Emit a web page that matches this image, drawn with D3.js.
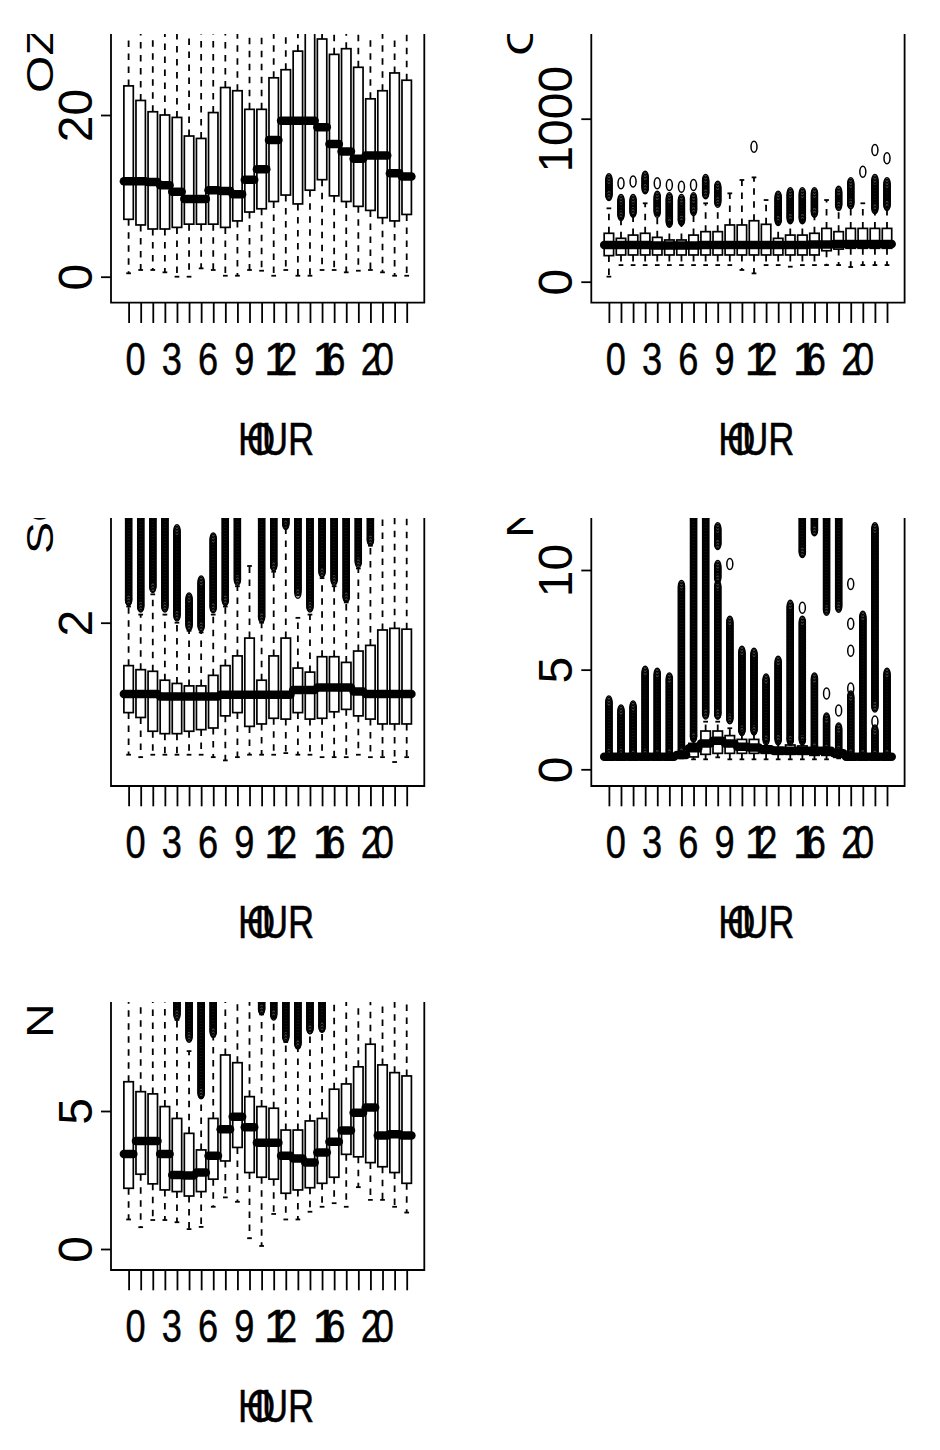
<!DOCTYPE html>
<html><head><meta charset="utf-8">
<script src="https://cdn.jsdelivr.net/npm/d3@7"></script>
<style>body{margin:0;background:#fff}svg{display:block}</style>
</head><body>
<svg id="c" width="940" height="1450"></svg>
<script>
// ---------- categories ----------
const hours = ["0","1","2","3","4","5","6","7","8","9","10","11","12","13","14","15","16","17","18","19","20","21","22","23"];
const shownHourLabels = ["0","3","6","9","12","16","20"];
const xTitle = "HOUR";

// ---------- panel 1: OZONE ----------
const o3Q1  = [7.1,6.4,5.9,5.9,6.1,6.5,6.5,6.5,6.1,6.9,8.0,8.4,9.3,10.1,9.0,10.7,12.0,10.0,9.3,8.7,8.2,7.3,6.9,7.7];
const o3Med = [11.8,11.8,11.7,11.3,10.5,9.6,9.6,10.7,10.6,10.2,12.0,13.3,16.9,19.3,19.3,19.3,18.5,16.4,15.5,14.6,15.0,15.0,12.8,12.4];
const o3Q3  = [23.6,21.8,20.4,20.0,19.7,17.4,17.1,20.3,23.4,23.0,20.7,20.7,24.6,25.6,27.9,30.5,29.4,27.5,28.2,25.9,22.0,23.0,25.2,24.3];
const o3Lw  = [0.42,0.83,0.83,0.54,0,0,1.03,0.83,0.12,0.12,0.83,0.74,0.12,0.83,0.12,0.12,0.83,0.83,0.54,0.74,0.83,0.54,0.12,0.12];
const o3Uw  = [45,45,45,45,45,45,45,45,45,45,45,45,45,45,45,45,45,45,45,45,45,45,45,45];
const o3Ticks = [0,20];

// ---------- panel 2: CO ----------
const coQ1  = [160,164,164,164,164,164,164,164,164,164,164,164,164,164,164,164,164,164,190,200,205,205,205,205];
const coMed = [225,225,225,225,222,222,222,222,225,225,225,225,225,225,225,225,225,228,228,231,231,231,231,231];
const coQ3  = [297,266,286,297,272,256,256,286,307,307,348,348,374,352,266,286,286,297,327,307,327,327,327,327];
const coLw  = [31,102,102,102,102,102,102,102,102,102,102,72,51,102,102,92,102,102,102,102,90,102,102,102];
const coUw  = [450,390,410,481,415,360,370,420,481,470,542,624,640,501,370,375,375,415,501,455,465,481,440,455];
const coOutRuns = [[[532,628]],[[409,501]],[[429,501]],[[573,644]],[[429,521]],[[368,512]],[[378,501]],[[440,512]],[[542,624]],[[491,583]],[],[],[],[],[[378,521]],[[389,542]],[[389,542]],[[429,542]],[],[[470,552]],[[481,604]],[],[[450,624]],[[470,604]]];
const coOutPts  = [[],[604],[614],[],[604],[593],[583],[593],[],[],[],[],[828],[],[],[],[],[],[],[],[],[675],[808],[757]];
const coTicks = [0,1000];

// ---------- panel 3: SO2 ----------
const so2Q1  = [0.89,0.83,0.66,0.63,0.63,0.66,0.68,0.70,0.85,0.89,0.72,0.75,0.82,0.81,0.89,0.81,0.82,0.90,0.93,0.85,0.81,0.75,0.75,0.75];
const so2Med = [1.12,1.12,1.12,1.09,1.09,1.09,1.09,1.09,1.11,1.11,1.11,1.11,1.11,1.11,1.17,1.17,1.20,1.20,1.20,1.15,1.12,1.12,1.12,1.12];
const so2Q3  = [1.47,1.42,1.40,1.29,1.25,1.22,1.22,1.35,1.47,1.59,1.81,1.29,1.59,1.81,1.44,1.39,1.58,1.58,1.51,1.65,1.72,1.91,1.93,1.92];
const so2Lw  = [0.37,0.34,0.37,0.37,0.37,0.37,0.37,0.34,0.30,0.34,0.37,0.37,0.37,0.39,0.37,0.37,0.34,0.34,0.34,0.37,0.34,0.34,0.28,0.34];
const so2Uw  = [2.2,2.1,2.35,2.1,2.0,1.9,1.88,2.1,2.2,2.45,2.70,2.0,2.63,3.2,2.06,2.1,2.55,2.45,2.25,2.67,2.95,4.5,4.5,4.5];
const so2OutRuns = [[[2.28,4]],[[2.2,4]],[[2.44,4]],[[2.2,4]],[[2.09,3.14]],[[1.97,2.30]],[[1.96,2.51]],[[2.19,3.04]],[[2.28,4]],[[2.53,4]],[],[[2.07,4]],[[2.71,4]],[[3.22,4]],[[2.40,4]],[[2.2,4]],[[2.63,4]],[[2.53,4]],[[2.32,4]],[[2.75,4]],[[3.02,4]],[],[],[]];
const so2OutPts = [[],[],[],[],[],[],[],[],[],[],[],[],[],[],[2.37],[],[],[],[],[],[],[],[],[]];
const so2Ticks = [2];

// ---------- panel 4: NO ----------
const noQ1  = [0.6,0.6,0.6,0.6,0.6,0.6,0.62,0.62,0.75,0.8,0.8,0.8,0.8,0.8,0.75,0.75,0.75,0.7,0.7,0.6,0.6,0.6,0.6,0.6];
const noMed = [0.63,0.63,0.63,0.63,0.63,0.63,0.72,1.05,1.30,1.43,1.30,1.13,1.10,1.0,0.93,0.93,0.93,0.93,0.93,0.8,0.63,0.63,0.63,0.63];
const noQ3  = [0.7,0.7,0.7,0.7,0.7,0.7,0.8,1.30,1.92,1.92,1.69,1.50,1.50,1.17,1.10,1.22,1.17,1.0,0.97,0.9,0.7,0.7,0.7,0.7];
const noLw  = [0.55,0.55,0.55,0.55,0.55,0.55,0.55,0.5,0.5,0.6,0.5,0.5,0.5,0.5,0.5,0.5,0.5,0.5,0.5,0.55,0.55,0.55,0.55,0.55];
const noUw  = [0.75,0.75,0.75,0.75,0.75,0.75,0.85,1.55,2.39,2.39,2.06,1.85,1.85,1.4,1.4,1.4,1.4,1.1,0.98,0.92,0.75,0.75,0.75,0.75];
const noOutRuns = [[[0.8,3.4]],[[0.8,2.95]],[[0.8,3.15]],[[0.8,4.9]],[[0.8,4.8]],[[0.8,4.55]],[[0.9,9.2]],[[1.65,14]],[[2.8,14]],[[2.8,9.2],[9.6,10.2],[11.3,12.1]],[[2.56,7.4]],[[1.97,5.9]],[[2.0,5.8]],[[1.5,4.5]],[[1.5,5.4]],[[1.5,8.2]],[[1.5,7.4],[10.9,14]],[[1.15,4.55],[12.0,14]],[[1.0,2.55],[8.0,14]],[[0.95,2.05],[8.15,14]],[[0.8,3.65]],[[0.8,7.65]],[[0.8,1.95],[3.15,12.1]],[[0.8,4.8]]];
const noOutPts = [[],[],[],[],[],[],[],[],[],[],[10.3],[],[],[],[],[],[8.1],[],[3.8],[2.95],[4.05,5.95,7.3,9.3],[],[2.4],[]];
const noTicks = [0,5,10];

// ---------- panel 5: NO2 ----------
const no2Q1  = [2.20,2.71,2.36,2.14,2.08,1.92,2.08,2.53,3.19,3.68,2.77,2.60,2.53,2.02,2.14,2.22,2.38,2.60,3.43,3.34,3.13,2.98,2.77,2.38];
const no2Med = [3.44,3.91,3.91,3.44,2.68,2.66,2.77,3.38,4.34,4.79,4.41,3.85,3.85,3.38,3.28,3.13,3.50,3.89,4.29,4.94,5.13,4.11,4.16,4.11];
const no2Q3  = [6.06,5.70,5.62,5.16,4.73,4.19,3.59,4.73,7.03,6.75,5.52,5.16,5.10,4.31,4.31,4.64,4.73,5.79,5.98,6.60,7.42,6.67,6.39,6.27];
const no2Lw  = [1.07,0.79,1.05,1.05,0.97,0.72,0.80,1.53,1.87,1.71,0.39,0.11,1.27,1.07,1.07,1.35,1.53,1.66,1.53,2.24,1.78,1.78,1.53,1.32];
const no2Uw  = [10,10,10,10,8.3,7.17,5.5,7.7,10,10,10,8.5,8.4,7.5,7.3,7.9,7.9,10,10,10,10,10,10,10];
const no2OutRuns = [[],[],[],[],[[8.5,10]],[[7.69,10]],[[5.64,10]],[[7.87,10]],[],[],[],[[8.7,10]],[[8.5,10]],[[7.69,10]],[[7.45,10]],[[8.0,10]],[[8.05,10]],[],[],[],[],[],[],[]];
const no2OutPts = [[],[],[],[],[],[],[],[],[],[],[],[],[],[],[],[],[],[],[],[],[],[],[],[]];
const no2Ticks = [0,5];

// ---------- layout / styles ----------
const FONT = '"Liberation Sans", Arial, Helvetica, sans-serif';
const colLeft = [111, 591.3], plotW = 313.3;
const rowTop = [34, 518, 1002], rowBottom = [302.7, 786, 1270];

const panels = [
  {ylab:"OZONE", q1:o3Q1, med:o3Med, q3:o3Q3, lw:o3Lw, uw:o3Uw, runs:null, pts:null, ticks:o3Ticks, col:0, row:0, anchorV:[0,20], anchorPx:[276.7,115], labY:93},
  {ylab:"CO", q1:coQ1, med:coMed, q3:coQ3, lw:coLw, uw:coUw, runs:coOutRuns, pts:coOutPts, ticks:coTicks, col:1, row:0, anchorV:[0,1000], anchorPx:[281.7,118.7], labY:56},
  {ylab:"SO2", q1:so2Q1, med:so2Med, q3:so2Q3, lw:so2Lw, uw:so2Uw, runs:so2OutRuns, pts:so2OutPts, ticks:so2Ticks, col:0, row:1, anchorV:[0,2], anchorPx:[784.7,622.7], labY:554},
  {ylab:"NO", q1:noQ1, med:noMed, q3:noQ3, lw:noLw, uw:noUw, runs:noOutRuns, pts:noOutPts, ticks:noTicks, col:1, row:1, anchorV:[0,10], anchorPx:[769.3,570], labY:538},
  {ylab:"NO2", q1:no2Q1, med:no2Med, q3:no2Q3, lw:no2Lw, uw:no2Uw, runs:no2OutRuns, pts:no2OutPts, ticks:no2Ticks, col:0, row:2, anchorV:[0,5], anchorPx:[1249,1111], labY:1038}
];

const svg = d3.select('#c');

// glyph placement imitating the reference device: glyphs advance less than their drawn width
const meas = svg.append('text').style('font', `47px ${FONT}`).attr('x',-999).attr('y',-999);
function charW(ch){ meas.text(ch); return meas.node().getComputedTextLength(); }
const deviceAdvance = {H: 9, O: 15, U: 26, R: 16};
const glyphScale = {'1': 1.0};
function squeezed(g, str, cx, baseY){
  const sx = 0.77, squeeze = 0.64, shift = 3.3;
  const chars = Array.from(str);
  const adv = chars.map(ch => deviceAdvance[ch] !== undefined ? deviceAdvance[ch] : charW(ch) * sx * squeeze);
  const total = d3.sum(adv);
  let xx = cx - total/2 + shift;
  chars.forEach((ch,i) => {
    const s = glyphScale[ch] !== undefined ? glyphScale[ch] : sx;
    g.append('text').attr('transform',`translate(${xx},${baseY}) scale(${s},1)`)
      .attr('text-anchor','start').style('font', `47px ${FONT}`)
      .attr('fill','#000').attr('stroke','#000').attr('stroke-width',0.5).text(ch);
    xx += adv[i];
  });
}

panels.forEach((p, pi) => {
  const left = colLeft[p.col], right = left + plotW;
  const top = rowTop[p.row], bottom = rowBottom[p.row];
  const x = d3.scalePoint().domain(hours).range([left + 17.6, right - 17.6]);
  const step = x.step();
  const hw = 0.39 * step, capHw = hw / 2;
  const y = d3.scaleLinear().domain(p.anchorV).range(p.anchorPx);

  svg.append('clipPath').attr('id','clip'+pi).append('rect')
    .attr('x',0).attr('y',top).attr('width',940).attr('height',1450-top);
  const g = svg.append('g').attr('clip-path',`url(#clip${pi})`);

  hours.forEach((h, i) => {
    const cx = x(h);
    const bg = g.append('g');
    bg.append('line').attr('x1',cx).attr('x2',cx).attr('y1',y(p.q3[i])).attr('y2',y(p.uw[i]))
      .attr('stroke','#000').attr('stroke-width',1.8).attr('stroke-dasharray','6.5,6.5');
    bg.append('line').attr('x1',cx).attr('x2',cx).attr('y1',y(p.q1[i])).attr('y2',y(p.lw[i]))
      .attr('stroke','#000').attr('stroke-width',1.8).attr('stroke-dasharray','6.5,6.5');
    [p.uw[i], p.lw[i]].forEach(v => {
      bg.append('line').attr('x1',cx-capHw).attr('x2',cx+capHw).attr('y1',y(v)).attr('y2',y(v))
        .attr('stroke','#000').attr('stroke-width',1.8);
    });
    bg.append('rect').attr('x',cx-hw).attr('width',2*hw)
      .attr('y',y(p.q3[i])).attr('height',Math.max(0.1, y(p.q1[i]) - y(p.q3[i])))
      .attr('fill','none').attr('stroke','#000').attr('stroke-width',1.7);
    bg.append('line').attr('x1',cx-hw).attr('x2',cx+hw).attr('y1',y(p.med[i])).attr('y2',y(p.med[i]))
      .attr('stroke','#000').attr('stroke-width',8.5).attr('stroke-linecap','round');
    const drawPt = py => bg.append('ellipse').attr('cx',cx).attr('cy',py).attr('rx',3).attr('ry',5.5)
      .attr('fill','none').attr('stroke','#000').attr('stroke-width',1.5);
    if (p.runs) p.runs[i].forEach(([a,b]) => {
      const pa = y(a), pb = Math.max(y(b), top - 10);
      for (let py = pb; py <= pa; py += 1.5) drawPt(py);
      drawPt(pa);
    });
    if (p.pts) p.pts[i].forEach(v => drawPt(y(v)));
  });

  g.append('path').attr('d',`M${left},${top-10}V${bottom}H${right}V${top-10}`)
    .attr('fill','none').attr('stroke','#000').attr('stroke-width',1.8);

  const ya = g.append('g').attr('transform',`translate(${left},0)`)
    .call(d3.axisLeft(y).tickValues(p.ticks).tickSize(10).tickFormat(d3.format('d')));
  ya.select('.domain').remove();
  ya.selectAll('.tick line').attr('stroke','#000').attr('stroke-width',1.8);
  ya.selectAll('.tick text').attr('x',null).attr('dy',null)
    .attr('transform','translate(-19.3,0) rotate(-90)').attr('text-anchor','middle')
    .style('font',`48px ${FONT}`).attr('fill','#000');

  g.append('text').attr('transform',`translate(${left-58},${p.labY}) rotate(-90) scale(1.3,1)`)
    .attr('text-anchor','start').style('font',`37px ${FONT}`).attr('fill','#000').text(p.ylab);

  const xa = g.append('g').attr('transform',`translate(0,${bottom+0.3})`)
    .call(d3.axisBottom(x).tickSize(20).tickFormat(''));
  xa.select('.domain').remove();
  xa.selectAll('.tick line').attr('stroke','#000').attr('stroke-width',1.8);

  shownHourLabels.forEach(l => squeezed(g, l, x(l), bottom + 72.3));
  squeezed(g, xTitle, (left + right)/2, bottom + 152.3);
});
meas.remove();
</script>
</body></html>
